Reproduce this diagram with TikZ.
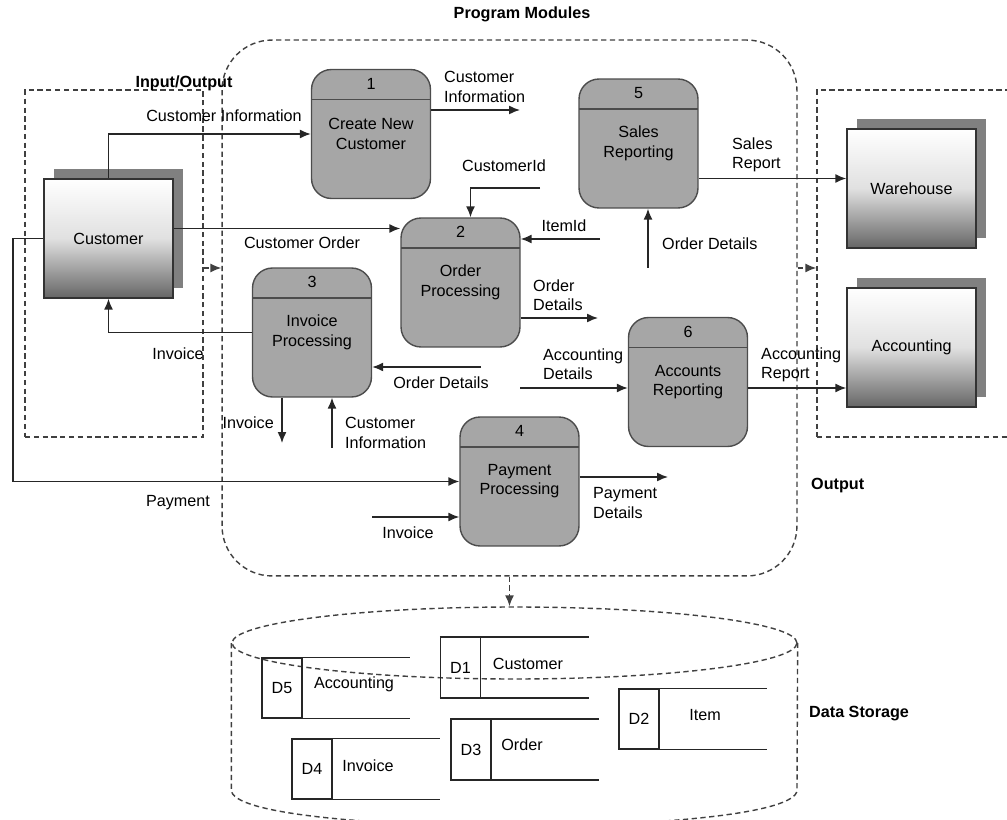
\documentclass[tikz,border=0pt]{standalone}
\usepackage{fontspec}
\setmainfont{Liberation Sans}
\usetikzlibrary{arrows.meta,shadows,shapes.geometric}

\begin{document}
\begin{tikzpicture}[x=0.02cm,y=-0.02cm,font=\fontsize{9.2}{11}\selectfont]
\tikzstyle{lien}=[->,>={Latex[length=2.2mm,width=1.8mm]},thick,black!85]
\tikzstyle{zone}=[draw=black!75,thick,dash pattern=on 3pt off 2pt]
\tikzset{processus/.style={draw=black!70,thick,fill=black!35,rounded corners=0.4cm,
  minimum width=2.38cm,minimum height=2.58cm,
  path picture={\draw[black!70,thick] ([yshift=-0.6cm]path picture bounding box.north west) -- ([yshift=-0.6cm]path picture bounding box.north east);}},
entite/.style={draw=black!80,thick,minimum width=2.58cm,minimum height=2.38cm,
  top color=white,bottom color=black!60,middle color=black!12,
  drop shadow={shadow xshift=0.2cm,shadow yshift=0.2cm,opacity=1,fill=black!50}},
magasin/.style={draw=black!85,thick,minimum width=0.8cm,minimum height=1.2cm},
titre/.style={font=\fontsize{9.2}{11}\selectfont\bfseries}}
\useasboundingbox (0,0) rectangle (1007,820);

\node[zone,minimum width=3.56cm,minimum height=6.94cm] (io) at (114,263.5) {};
\node[zone,rounded corners=1cm,minimum width=11.5cm,minimum height=10.72cm] (pm) at (509.5,308) {};
\node[zone,minimum width=4cm,minimum height=6.94cm] (out) at (917,263.5) {};
\node[zone,ellipse,minimum width=11.3cm,minimum height=1.44cm] (ds) at (514.5,643) {};
\draw[zone] (ds.west) -- ++(0,147) .. controls +(0,48) and +(0,48) .. (797,790) -- (ds.east);

\coordinate (io-pm) at (0,268);
\draw[zone,->,>={Latex[length=2.2mm,width=1.8mm]}] (io-pm -| io.east) -- (io-pm -| pm.west);
\draw[zone,->,>={Latex[length=2.2mm,width=1.8mm]}] (io-pm -| pm.east) -- (io-pm -| out.west);
\draw[zone,->,>={Latex[length=2.2mm,width=1.8mm]}] (pm.south) -- (pm.south |- ds.north);

\node[titre] (t-pm) at (522,14) {Program Modules};
\node[titre] (t-io) at (184,83) {Input/Output};
\node[titre,anchor=west] (t-out) at (805,486) {Output};
\node[titre,anchor=west] (t-ds) at (803,714) {Data Storage};

\node[entite] (cust) at (108.5,238.5) {Customer};
\node[entite] (wh) at (911.5,188.5) {Warehouse};
\node[entite] (acc) at (911.5,347.5) {Accounting};

\node[processus] (p1) at (371,134) {};
\node (n1) at ([yshift=-0.3cm]p1.north) {1};
\node[align=center] (t1) at ([yshift=-1.3cm]p1.north) {Create New\\Customer};
\node[processus] (p2) at (460.5,282.5) {};
\node (n2) at ([yshift=-0.3cm]p2.north) {2};
\node[align=center] (t2) at ([yshift=-1.3cm]p2.north) {Order\\Processing};
\node[processus] (p3) at (312,332.5) {};
\node (n3) at ([yshift=-0.3cm]p3.north) {3};
\node[align=center] (t3) at ([yshift=-1.3cm]p3.north) {Invoice\\Processing};
\node[processus] (p4) at (519.5,481.5) {};
\node (n4) at ([yshift=-0.3cm]p4.north) {4};
\node[align=center] (t4) at ([yshift=-1.3cm]p4.north) {Payment\\Processing};
\node[processus] (p5) at (638.5,143.5) {};
\node (n5) at ([yshift=-0.3cm]p5.north) {5};
\node[align=center] (t5) at ([yshift=-1.3cm]p5.north) {Sales\\Reporting};
\node[processus] (p6) at (688,382) {};
\node (n6) at ([yshift=-0.3cm]p6.north) {6};
\node[align=center] (t6) at ([yshift=-1.3cm]p6.north) {Accounts\\Reporting};

\draw[lien] (cust.north) |- (p1.west);
\node (l-ci0) at (224,116) {Customer Information};
\coordinate (ord) at ([yshift=0.2cm]cust.east);
\draw[lien] (ord) -- (ord -| p2.west);
\node (l-co) at (302,243) {Customer Order};
\coordinate (pay) at (13,0);
\draw[lien] (cust.west) -| (pay |- p4.west) -- (p4.west);
\node (l-pay) at (178,503) {Payment};
\draw[lien] (p3.west) -| (cust.south);
\node (l-inv1) at (178,354) {Invoice};

\coordinate (ci1) at (520,110);
\draw[lien] (ci1 -| p1.east) -- (ci1);
\node[anchor=west,align=left] (l-ci1) at (438,87) {Customer\\Information};
\coordinate (cid) at (540,188);
\draw[lien] (cid) -| ([xshift=0.2cm]p2.north);
\node (l-cid) at (504,166) {CustomerId};
\coordinate (iid) at (600,239);
\draw[lien] (iid) -- (iid -| p2.east);
\node (l-iid) at (564,226) {ItemId};
\coordinate (od1) at (598,318);
\draw[lien] (od1 -| p2.east) -- (od1);
\node[anchor=west,align=left] (l-od1) at (527,295) {Order\\Details};
\coordinate (od2) at (648,268);
\draw[lien] (od2) -- (od2 |- p5.south);
\node[anchor=west] (l-od2) at (656,244) {Order Details};
\coordinate (sr) at ([yshift=0.2cm]wh.west);
\draw[lien] (sr -| p5.east) -- (sr);
\node[anchor=west,align=left] (l-sr) at (726,155) {Sales\\Report};

\coordinate (od3) at (481,367);
\draw[lien] (od3) -- (od3 -| p3.east);
\node (l-od3) at (441,383) {Order Details};
\coordinate (inv2) at (282,443);
\draw[lien] (inv2 |- p3.south) -- (inv2);
\node[anchor=east] (l-inv2) at (280,423) {Invoice};
\coordinate (ci3) at (332,448);
\draw[lien] (ci3) -- (ci3 |- p3.south);
\node[anchor=west,align=left] (l-ci3) at (339,433) {Customer\\Information};
\coordinate (ad) at (520,388);
\draw[lien] (ad) -- (ad -| p6.west);
\node[anchor=west,align=left] (l-ad) at (537,364) {Accounting\\Details};
\draw[lien] (ad -| p6.east) -- (ad -| acc.west);
\node[anchor=west,align=left] (l-ar) at (755,365) {Accounting\\Report};
\coordinate (inv3) at (372,517);
\draw[lien] (inv3) -- (inv3 -| p4.west);
\node (l-inv3) at (408,533) {Invoice};
\coordinate (pd) at (668,477);
\draw[lien] (pd -| p4.east) -- (pd);
\node[anchor=west,align=left] (l-pd) at (587,503) {Payment\\Details};

\node[magasin] (d5) at (282,688) {D5};
\draw[thick,black!85] (d5.north west) -- ++(149,0) (d5.south west) -- ++(149,0);
\node (s5) at (354,684) {Accounting};
\node[magasin] (d1) at (460.5,667.5) {D1};
\draw[thick,black!85] (d1.north west) -- ++(149,0) (d1.south west) -- ++(149,0);
\node (s1) at (528,664) {Customer};
\node[magasin] (d2) at (639,719) {D2};
\draw[thick,black!85] (d2.north west) -- ++(149,0) (d2.south west) -- ++(149,0);
\node (s2) at (705,715) {Item};
\node[magasin] (d3) at (471,749.5) {D3};
\draw[thick,black!85] (d3.north west) -- ++(149,0) (d3.south west) -- ++(149,0);
\node (s3) at (522,745) {Order};
\node[magasin] (d4) at (312,769) {D4};
\draw[thick,black!85] (d4.north west) -- ++(149,0) (d4.south west) -- ++(149,0);
\node (s4) at (368,766) {Invoice};

\end{tikzpicture}
\end{document}
